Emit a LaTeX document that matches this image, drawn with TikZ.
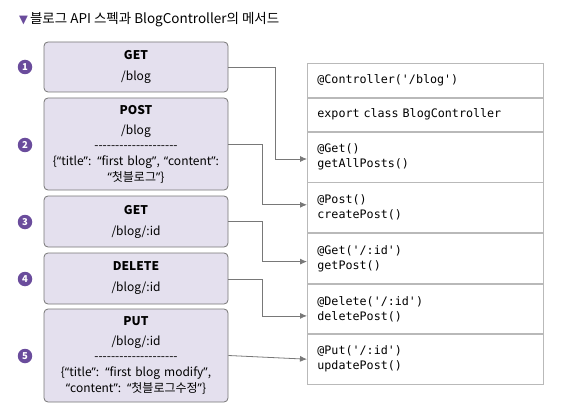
\documentclass[tikz,border=0pt]{standalone}
\usepackage{fontspec}
\usepackage{tikz}
\usetikzlibrary{positioning, arrows.meta}
\setmainfont{Noto Sans CJK KR}
\newfontfamily\codefont{DejaVu Sans Mono}
\newfontfamily\symfont{DejaVu Sans}
\newfontfamily\quotefont{Noto Sans}
\definecolor{boxfill}{RGB}{228,224,238}
\definecolor{boxline}{RGB}{118,118,118}
\definecolor{tabline}{RGB}{185,185,185}
\definecolor{numpurple}{RGB}{106,76,156}
\definecolor{arrowgray}{RGB}{120,120,120}
% row of plain hyphens (no en-dash ligature)
\newcommand{\hyphenrow}{\foreach \k in {1,...,20} {-\kern0pt}}
% proportional curly quotes
\newcommand{\oq}{{\quotefont “}}
\newcommand{\cq}{{\quotefont ”}}

\tikzset{
    apibox/.style={draw=boxline, fill=boxfill, rounded corners=4pt, line width=0.8pt,
        minimum width=184pt, text width=178pt, align=center, inner sep=0pt,
        font=\fontsize{12}{16}\selectfont},
    numdot/.style={circle, fill=numpurple, text=white, inner sep=0pt, minimum size=14.5pt,
        font=\fontsize{9.5}{9.5}\selectfont\bfseries},
    coderow/.style={draw=tabline, line width=0.8pt, minimum width=236pt, text width=216pt,
        align=left, inner xsep=10pt, inner ysep=0pt, font=\codefont\fontsize{11.7}{15}\selectfont},
    link/.style={draw=arrowgray, line width=0.8pt, -{Latex[length=7pt,width=6pt]}},
}

\begin{document}
\begin{tikzpicture}[x=1pt, y=-1pt]
    \useasboundingbox (0,0) rectangle (572,414);

    % Title
    \node[anchor=west, inner sep=0pt, font=\fontsize{13.5}{15}\selectfont] (title) at (19,20)
        {{\symfont\color{numpurple}\fontsize{11.5}{11.5}\selectfont ▼}\hspace{2pt}블로그 API 스펙과 BlogController의 메서드};

    % API requests (left)
    \node[apibox, minimum height=50pt] (getall) at (136,67)
        {\textbf{GET}\\[5pt] /blog};
    \node[apibox, minimum height=92pt] (post) at (136,144)
        {\textbf{POST}\\[4pt] /blog\\[-1pt] \hyphenrow\\ \{\oq title\cq: \oq first blog\cq, \oq content\cq:\\ \oq 첫블로그\cq\}};
    \node[apibox, minimum height=51pt] (getone) at (136,221.5)
        {\textbf{GET}\\[5pt] /blog/:id};
    \node[apibox, minimum height=51pt] (delete) at (136,278.5)
        {\textbf{DELETE}\\[5pt] /blog/:id};
    \node[apibox, minimum height=93pt] (put) at (136,355.5)
        {\textbf{PUT}\\[4pt] /blog/:id\\[-1pt] \hyphenrow\\ \{\oq title\cq: \oq first blog modify\cq,\\ \oq content\cq: \oq 첫블로그수정\cq\}};

    % Step numbers
    \foreach \i/\y in {1/67, 2/145, 3/222, 4/279, 5/356} {
        \node[numdot] (n\i) at (25,\y) {\i};
    }

    % Controller methods (right)
    \node[coderow, minimum height=34pt, anchor=north west] (ctrl) at (307,63) {@Controller('/blog')};
    \node[coderow, minimum height=33pt, below=0pt of ctrl] (cls) {export class BlogController};
    \node[coderow, minimum height=50pt, below=0pt of cls] (mgetall) {@Get()\\getAllPosts()};
    \node[coderow, minimum height=50pt, below=0pt of mgetall] (mpost) {@Post()\\createPost()};
    \node[coderow, minimum height=50pt, below=0pt of mpost] (mgetone) {@Get('/:id')\\getPost()};
    \node[coderow, minimum height=49pt, below=0pt of mgetone] (mdelete) {@Delete('/:id')\\deletePost()};
    \node[coderow, minimum height=50pt, below=0pt of mdelete] (mput) {@Put('/:id')\\updatePost()};

    % Connectors
    \draw[link] (getall.east) -- ++(47,0) |- ([yshift=-2pt]mgetall.west);
    \draw[link] (post.east) -- ++(34,0) |- ([yshift=3pt]mpost.west);
    \draw[link] ([yshift=0.5pt]getone.east) -- ++(34,0) |- ([yshift=-3pt]mgetone.west);
    \draw[link] ([yshift=-0.5pt]delete.east) -- ++(34,0) |- ([yshift=-7pt]mdelete.west);
    \draw[link] (put.east) -- (mput.west);
\end{tikzpicture}
\end{document}
